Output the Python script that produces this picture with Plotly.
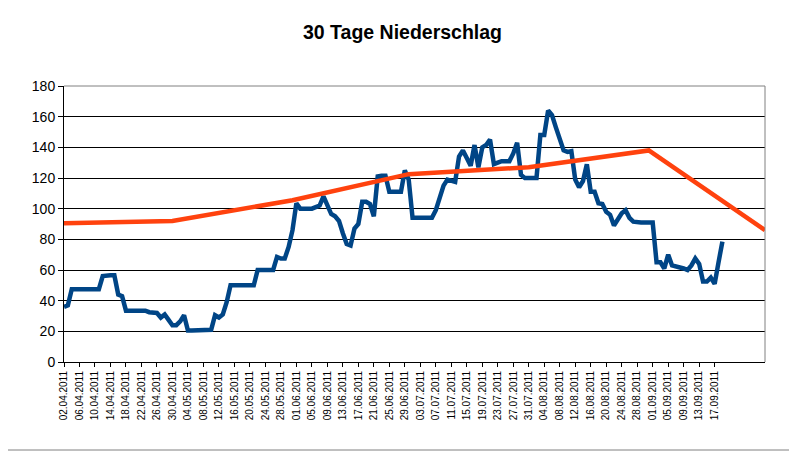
import plotly.graph_objects as go
import pandas as pd

start_date = "2011-04-02"
end_date = "2011-09-30"

niederschlag = [
    36, 37, 47.5, 47.5, 47.5, 47.5, 47.5, 47.5, 47.5, 47.5,
    56, 56.5, 56.5, 56.5, 44, 43, 33.5, 33.5, 33.5, 33.5,
    33.5, 33.5, 32.5, 32, 32, 29, 31, 27.5, 24, 24,
    26.5, 30.5, 20.5, 20.5, 20.5, 20.5, 21, 21, 21, 30.5,
    29, 31, 39, 50, 50, 50, 50, 50, 50, 50,
    60, 60, 60, 60, 60, 68.5, 67.5, 67.5, 75, 86,
    103.5, 100, 100, 100, 100, 101, 102, 108, 101.5, 96.5,
    95, 92, 84, 77, 76, 87, 90, 104.5, 104.5, 103,
    95, 121, 121.5, 121.5, 111, 111, 111, 111, 125, 119,
    94, 94, 94, 93.5, 93.5, 94, 99, 107, 115, 119,
    118, 117.5, 134, 138, 133, 128, 141.5, 127, 140, 141.5,
    145, 129, 130, 131, 131, 131, 136, 143, 122, 120,
    120, 120, 120, 148, 148, 164, 161, 153, 145, 138,
    137, 137.5, 119, 114, 118, 129, 111, 111, 103.5, 103,
    98, 96, 89, 93, 97, 99, 94, 91.5, 91, 91,
    91, 91, 91, 65, 65, 61, 70, 63, 62.5, 62,
    61, 60, 63, 67.5, 64, 52.5, 52.5, 55, 51, 65,
    78.5,
]

trend_dates = ["2011-04-02", "2011-04-30", "2011-05-31", "2011-06-30",
               "2011-07-31", "2011-08-31", "2011-09-30"]
trend_values = [90.5, 92, 105.5, 122.5, 127, 138, 86]

dates = pd.date_range(start_date, periods=len(niederschlag), freq="D")
tick_dates = pd.date_range(start_date, "2011-09-17", freq="4D")
tick_labels = [d.strftime("%d.%m.%Y") for d in tick_dates]

fig = go.Figure()
fig.add_trace(go.Scatter(
    x=dates, y=niederschlag, mode="lines",
    line=dict(color="#004586", width=4.5), name="Niederschlag",
))
fig.add_trace(go.Scatter(
    x=pd.to_datetime(trend_dates), y=trend_values, mode="lines",
    line=dict(color="#ff420e", width=4.5), name="Mittel",
))

W, H = 789, 444
L, R, T, B = 56, 32, 78, 90
PW, PH = W - L - R, H - T - B

fig.update_layout(
    width=W, height=H,
    margin=dict(l=L, r=R, t=T, b=B, autoexpand=False),
    paper_bgcolor="white", plot_bgcolor="white",
    showlegend=False,
    font=dict(family="Liberation Sans, Arial, sans-serif", color="black"),
    title=dict(text="<b>30 Tage Niederschlag</b>", x=0.5, xanchor="center",
               y=1 - 24 / H, yanchor="middle",
               font=dict(size=19.5, family="Liberation Sans, Arial, sans-serif", color="black")),
    xaxis=dict(
        type="date", range=[start_date, end_date],
        tickmode="array", tickvals=tick_dates, ticktext=tick_labels,
        tickangle=-90, tickfont=dict(size=10),
        showgrid=False, showline=True, linecolor="black", linewidth=1,
        ticks="outside", ticklen=4, tickcolor="black",
        zeroline=False,
    ),
    yaxis=dict(
        range=[0, 180], dtick=20, tickfont=dict(size=14),
        showgrid=True, gridcolor="black", gridwidth=1,
        showline=True, linecolor="black", linewidth=1,
        ticks="outside", ticklen=5, tickcolor="black",
        zeroline=False,
    ),
    shapes=[
        dict(type="line", xref="paper", yref="paper", x0=0, x1=1, y0=1, y1=1,
             line=dict(color="#808080", width=1)),
        dict(type="line", xref="paper", yref="paper", x0=1, x1=1, y0=0, y1=1,
             line=dict(color="#808080", width=1)),
        dict(type="line", xref="paper", yref="paper", x0=-L / PW, x1=(PW + R) / PW,
             y0=-88 / PH, y1=-88 / PH, line=dict(color="#808080", width=1)),
    ],
)

fig.write_html("out.html")
